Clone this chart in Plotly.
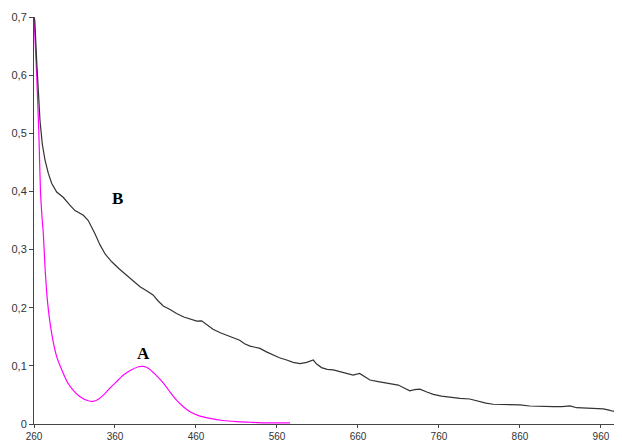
import plotly.graph_objects as go

# Curve A (magenta)
a_x = [260, 263.3, 266, 268, 270, 271.5, 273.6, 276.5, 281.8, 288, 296.2, 302, 308.5, 316.8, 327, 333, 339, 346, 354, 362, 370, 380, 389, 395, 401, 410, 420, 428, 436, 444, 452.6, 464, 477, 493, 510, 527, 543, 560, 576]
a_y = [0.70, 0.60, 0.50, 0.40, 0.354, 0.328, 0.27, 0.213, 0.156, 0.116, 0.087, 0.070, 0.058, 0.047, 0.040, 0.039, 0.042, 0.050, 0.062, 0.073, 0.084, 0.093, 0.0985, 0.099, 0.096, 0.085, 0.070, 0.055, 0.041, 0.030, 0.021, 0.014, 0.0098, 0.006, 0.004, 0.003, 0.002, 0.002, 0.002]

# Curve B (black)
b_x = [260, 261, 263.3, 265.3, 267.4, 270.2, 273.6, 277.7, 281.8, 288, 296, 304, 310.6, 321, 327, 335, 341.5, 348, 356, 365, 374.4, 382, 390.9, 398, 407, 413, 419.6, 428, 436, 445, 454.7, 461, 467, 474, 481, 490, 497.9, 506, 514, 520, 526.7, 533, 539, 547, 555, 563, 572, 580, 588.4, 596.7, 604.8, 609, 615, 622, 629.5, 642, 654, 662, 668, 674.8, 685, 695.4, 709.8, 717, 724, 730, 736.5, 745, 753, 763, 773.6, 786, 798, 810, 818, 827, 843, 860, 872, 886, 901, 912, 921.7, 930, 946, 963, 970, 975, 986]
b_y = [0.70, 0.694, 0.625, 0.568, 0.522, 0.482, 0.454, 0.431, 0.414, 0.399, 0.390, 0.377, 0.367, 0.359, 0.350, 0.328, 0.308, 0.292, 0.279, 0.267, 0.256, 0.246, 0.236, 0.230, 0.222, 0.212, 0.203, 0.197, 0.190, 0.184, 0.179, 0.177, 0.1775, 0.170, 0.163, 0.157, 0.153, 0.148, 0.144, 0.138, 0.134, 0.132, 0.130, 0.124, 0.119, 0.114, 0.110, 0.106, 0.104, 0.106, 0.110, 0.103, 0.097, 0.094, 0.093, 0.088, 0.084, 0.087, 0.081, 0.0756, 0.073, 0.071, 0.067, 0.062, 0.057, 0.059, 0.060, 0.055, 0.051, 0.048, 0.046, 0.044, 0.043, 0.038, 0.036, 0.034, 0.034, 0.033, 0.031, 0.030, 0.030, 0.030, 0.031, 0.028, 0.027, 0.026, 0.024, 0.022, 0.022]

x_ticks = [260, 360, 460, 560, 660, 760, 860, 960]
x_tick_text = ["260", "360", "460", "560", "660", "760", "860", "960"]
y_ticks = [0, 0.1, 0.2, 0.3, 0.4, 0.5, 0.6, 0.7]
y_tick_text = ["0", "0,1", "0,2", "0,3", "0,4", "0,5", "0,6", "0,7"]

fig = go.Figure()
fig.add_trace(go.Scatter(x=a_x, y=a_y, mode="lines", line=dict(color="#FF00FF", width=1.2, shape="spline", smoothing=0.5), showlegend=False))
fig.add_trace(go.Scatter(x=b_x, y=b_y, mode="lines", line=dict(color="#333333", width=1.2), showlegend=False))

fig.add_annotation(x=363.7, y=0.388, text="<b>B</b>", showarrow=False,
                   font=dict(family="Liberation Serif", size=17, color="black"))
fig.add_annotation(x=394.6, y=0.122, text="<b>A</b>", showarrow=False,
                   font=dict(family="Liberation Serif", size=17, color="black"))

axis_font = dict(family="Liberation Sans, Arial", size=11, color="#333333")
fig.update_xaxes(range=[260, 986], tickvals=x_ticks, ticktext=x_tick_text, automargin=False,
                 showgrid=False, zeroline=False, showline=True, linecolor="#444444", linewidth=1,
                 ticks="outside", ticklen=3, tickcolor="#444444", tickfont=dict(family="Liberation Sans, Arial", size=10, color="#333333"))
fig.update_yaxes(range=[0, 0.7], tickvals=y_ticks, ticktext=y_tick_text, automargin=False,
                 showgrid=False, zeroline=False, showline=True, linecolor="#444444", linewidth=1,
                 ticks="outside", ticklen=4, tickcolor="#444444", tickfont=axis_font)

# the page places the figure 8px from the top-left corner, so margins compensate
fig.update_layout(width=622, height=442, margin=dict(l=26, r=8, t=9, b=26),
                  plot_bgcolor="white", paper_bgcolor="white")
fig.write_html("out.html")
